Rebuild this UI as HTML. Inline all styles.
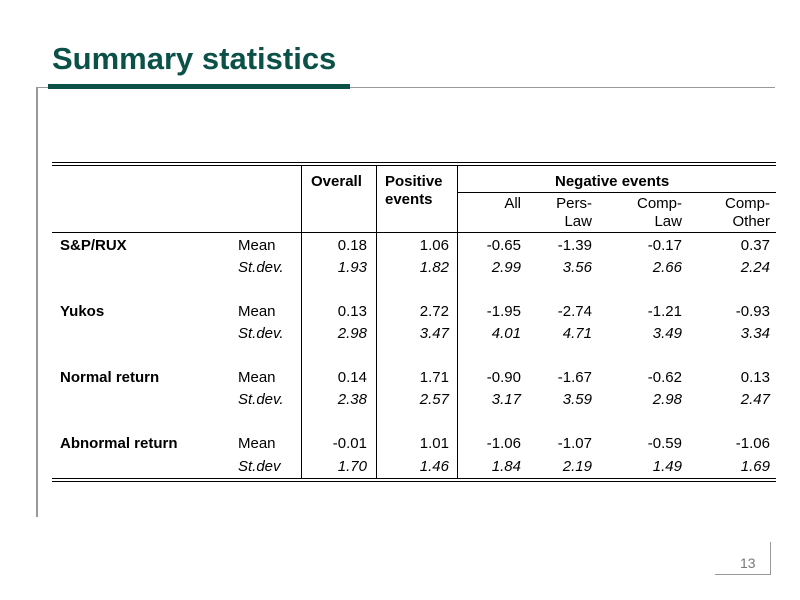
<!DOCTYPE html>
<html><head><style>
body{margin:0;width:800px;height:600px;background:#fff;position:relative;overflow:hidden;font-family:"Liberation Sans",Arial,sans-serif;}
.a{position:absolute;white-space:nowrap;font-size:15px;color:#000;line-height:22px}
.r{text-align:right;width:80px}
.b{font-weight:bold}
.i{font-style:italic}
.l{position:absolute;background:#000}
.h{line-height:18px}
</style></head><body>
<div class="a b" style="left:52px;top:41px;font-size:31px;line-height:36px;color:#0b5148">Summary statistics</div>
<div style="position:absolute;left:48px;top:84px;width:302px;height:5px;background:#0b5148"></div>
<div style="position:absolute;left:350px;top:87px;width:425px;height:1px;background:#999"></div>
<div style="position:absolute;left:36px;top:87px;width:12px;height:1px;background:#999"></div>
<div style="position:absolute;left:36px;top:87px;width:2px;height:430px;background:#999"></div>
<div style="position:absolute;left:715px;top:574px;width:56px;height:1px;background:#999"></div>
<div style="position:absolute;left:770px;top:542px;width:1px;height:33px;background:#999"></div>
<div class="a" style="left:740px;top:552px;font-size:14px;color:#777">13</div>

<div class="l" style="left:52px;top:162px;width:724px;height:1px"></div>
<div class="l" style="left:52px;top:165px;width:724px;height:1px"></div>
<div class="l" style="left:301px;top:165px;width:1px;height:313px"></div>
<div class="l" style="left:376px;top:165px;width:1px;height:313px"></div>
<div class="l" style="left:457px;top:165px;width:1px;height:313px"></div>
<div class="l" style="left:457px;top:192px;width:319px;height:1px"></div>
<div class="l" style="left:52px;top:232px;width:724px;height:1px"></div>
<div class="l" style="left:52px;top:478px;width:724px;height:1px"></div>
<div class="l" style="left:52px;top:481px;width:724px;height:1px"></div>

<div class="a b h" style="left:311px;top:173px">Overall</div>
<div class="a b h" style="left:385px;top:173px">Positive<br>events</div>
<div class="a b h" style="left:555px;top:173px">Negative events</div>
<div class="a r h" style="left:441px;top:195px">All</div>
<div class="a r h" style="left:512px;top:195px">Pers-<br>Law</div>
<div class="a r h" style="left:602px;top:195px">Comp-<br>Law</div>
<div class="a r h" style="left:690px;top:195px">Comp-<br>Other</div>

<div class="a b" style="left:60px;top:235px">S&amp;P/RUX</div>
<div class="a b" style="left:60px;top:301px">Yukos</div>
<div class="a b" style="left:60px;top:367px">Normal return</div>
<div class="a b" style="left:60px;top:433px">Abnormal return</div>

<div class="a" style="left:238px;top:235px">Mean<br><i>St.dev.</i></div>
<div class="a" style="left:238px;top:301px">Mean<br><i>St.dev.</i></div>
<div class="a" style="left:238px;top:367px">Mean<br><i>St.dev.</i></div>
<div class="a" style="left:238px;top:433px">Mean</div>
<div class="a i" style="left:238px;top:456px">St.dev</div>

<div class="a r" style="left:287px;top:235px">0.18<br><i>1.93</i></div>
<div class="a r" style="left:369px;top:235px">1.06<br><i>1.82</i></div>
<div class="a r" style="left:441px;top:235px">-0.65<br><i>2.99</i></div>
<div class="a r" style="left:512px;top:235px">-1.39<br><i>3.56</i></div>
<div class="a r" style="left:602px;top:235px">-0.17<br><i>2.66</i></div>
<div class="a r" style="left:690px;top:235px">0.37<br><i>2.24</i></div>

<div class="a r" style="left:287px;top:301px">0.13<br><i>2.98</i></div>
<div class="a r" style="left:369px;top:301px">2.72<br><i>3.47</i></div>
<div class="a r" style="left:441px;top:301px">-1.95<br><i>4.01</i></div>
<div class="a r" style="left:512px;top:301px">-2.74<br><i>4.71</i></div>
<div class="a r" style="left:602px;top:301px">-1.21<br><i>3.49</i></div>
<div class="a r" style="left:690px;top:301px">-0.93<br><i>3.34</i></div>

<div class="a r" style="left:287px;top:367px">0.14<br><i>2.38</i></div>
<div class="a r" style="left:369px;top:367px">1.71<br><i>2.57</i></div>
<div class="a r" style="left:441px;top:367px">-0.90<br><i>3.17</i></div>
<div class="a r" style="left:512px;top:367px">-1.67<br><i>3.59</i></div>
<div class="a r" style="left:602px;top:367px">-0.62<br><i>2.98</i></div>
<div class="a r" style="left:690px;top:367px">0.13<br><i>2.47</i></div>

<div class="a r" style="left:287px;top:433px">-0.01</div>
<div class="a r" style="left:369px;top:433px">1.01</div>
<div class="a r" style="left:441px;top:433px">-1.06</div>
<div class="a r" style="left:512px;top:433px">-1.07</div>
<div class="a r" style="left:602px;top:433px">-0.59</div>
<div class="a r" style="left:690px;top:433px">-1.06</div>
<div class="a r i" style="left:287px;top:456px">1.70</div>
<div class="a r i" style="left:369px;top:456px">1.46</div>
<div class="a r i" style="left:441px;top:456px">1.84</div>
<div class="a r i" style="left:512px;top:456px">2.19</div>
<div class="a r i" style="left:602px;top:456px">1.49</div>
<div class="a r i" style="left:690px;top:456px">1.69</div>
</body></html>
